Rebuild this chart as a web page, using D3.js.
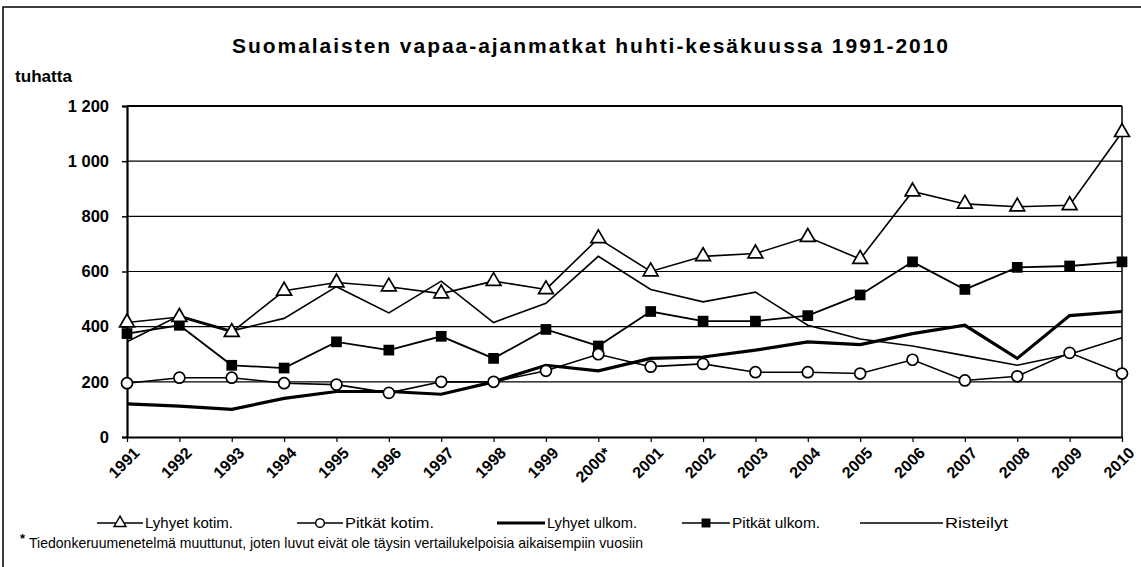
<!DOCTYPE html>
<html><head><meta charset="utf-8">
<script src="https://cdn.jsdelivr.net/npm/d3@7"></script>
<style>body{margin:0;background:#fff}svg{display:block}text{font-family:"Liberation Sans",Arial,sans-serif;fill:#000}</style>
</head><body><svg id="c" width="1141" height="567"></svg>
<script>
const years = ["1991","1992","1993","1994","1995","1996","1997","1998","1999","2000*","2001","2002","2003","2004","2005","2006","2007","2008","2009","2010"];
const lyhyetKotim = [415,435,380,530,560,545,520,565,535,720,600,655,665,725,645,890,845,835,840,1105];
const pitkatKotim = [195,215,215,195,190,160,200,200,240,300,255,265,235,235,230,280,205,220,305,230];
const lyhyetUlkom = [120,112,100,140,165,165,155,200,260,240,285,290,315,345,335,375,405,285,440,455];
const pitkatUlkom = [375,405,260,250,345,315,365,285,390,330,455,420,420,440,515,635,535,615,620,635];
const risteilyt  = [345,440,385,430,545,450,565,415,485,655,535,490,525,405,355,330,295,260,300,360];
const yTicks = [0,200,400,600,800,1000,1200];
const yTickLabels = ["0","200","400","600","800","1 000","1 200"];
const seriesNames = ["Lyhyet kotim.","Pitkät kotim.","Lyhyet ulkom.","Pitkät ulkom.","Risteilyt"];
const titleText = "Suomalaisten vapaa-ajanmatkat huhti-kesäkuussa 1991-2010";
const unitText = "tuhatta";
const noteText = "Tiedonkeruumenetelmä muuttunut, joten luvut eivät ole täysin vertailukelpoisia aikaisempiin vuosiin";

const svg = d3.select("#c");
const L=127, R=1122, T=106, B=437;
const x = d3.scalePoint().domain(years).range([L,R]);
const y = d3.scaleLinear().domain([0,1200]).range([B,T]);

// outer frame
svg.append("rect").attr("x",3).attr("y",7).attr("width",1160).attr("height",600)
  .attr("fill","none").attr("stroke","#000").attr("stroke-width",1.5);

// title
svg.append("text").attr("x",232).attr("y",53).attr("font-size",21).attr("font-weight","bold")
  .style("font-size","21px")
  .attr("textLength",716).attr("lengthAdjust","spacing").text(titleText);
svg.append("text").attr("x",15).attr("y",82).style("font-size","16px").attr("font-weight","bold")
  .attr("textLength",57).attr("lengthAdjust","spacingAndGlyphs").text(unitText);

// gridlines
svg.append("g").selectAll("line").data(yTicks.filter(d=>d>0)).join("line")
  .attr("x1",L).attr("x2",R).attr("y1",d=>y(d)).attr("y2",d=>y(d))
  .attr("stroke","#000").attr("stroke-width",d=>d===1200?1.8:1.1);
// right border
svg.append("line").attr("x1",R).attr("x2",R).attr("y1",T).attr("y2",B).attr("stroke","#000").attr("stroke-width",1.5);

// y axis
const yAxis = d3.axisLeft(y).tickValues(yTicks).tickSize(5).tickFormat((d,i)=>yTickLabels[i]);
const gy = svg.append("g").attr("transform",`translate(${L},0)`).call(yAxis);
gy.select(".domain").attr("stroke-width",2.2);
gy.selectAll(".tick line").attr("stroke-width",1.5);
gy.selectAll(".tick text").style("font-size","16.5px").attr("font-weight","bold").attr("x",-18)
  .attr("font-family","Liberation Sans, Arial, sans-serif").attr("fill","#000");

// x axis
const xAxis = d3.axisBottom(x).tickSize(5).tickSizeOuter(0);
const gx = svg.append("g").attr("transform",`translate(0,${B})`).call(xAxis);
gx.select(".domain").attr("stroke-width",1.8);
gx.selectAll(".tick line").attr("stroke-width",1.2);
gx.selectAll(".tick text").style("font-size","16px").attr("font-weight","bold")
  .attr("font-family","Liberation Sans, Arial, sans-serif").attr("fill","#000")
  .attr("text-anchor","end").attr("dy",0).attr("y",0)
  .attr("transform","translate(13,17) rotate(-45)");

// lines
const line = d3.line().x((d,i)=>x(years[i])).y(d=>y(d));
const g = svg.append("g");
g.append("path").datum(risteilyt).attr("d",line).attr("fill","none").attr("stroke","#000").attr("stroke-width",1.6);
g.append("path").datum(lyhyetUlkom).attr("d",line).attr("fill","none").attr("stroke","#000").attr("stroke-width",3.2);
g.append("path").datum(pitkatKotim).attr("d",line).attr("fill","none").attr("stroke","#000").attr("stroke-width",1.6);
g.append("path").datum(pitkatUlkom).attr("d",line).attr("fill","none").attr("stroke","#000").attr("stroke-width",1.8);
g.append("path").datum(lyhyetKotim).attr("d",line).attr("fill","none").attr("stroke","#000").attr("stroke-width",1.6);

const tri = d3.symbol().type(d3.symbolTriangle).size(95);
const sq = d3.symbol().type(d3.symbolSquare).size(115);
const circ = d3.symbol().type(d3.symbolCircle).size(95);
g.append("g").selectAll("path").data(pitkatUlkom).join("path")
  .attr("d",sq).attr("transform",(d,i)=>`translate(${x(years[i])},${y(d)})`).attr("fill","#000");
g.append("g").selectAll("path").data(pitkatKotim).join("path")
  .attr("d",circ).attr("transform",(d,i)=>`translate(${x(years[i])},${y(d)})`).attr("fill","#fff").attr("stroke","#000").attr("stroke-width",1.7);
g.append("g").selectAll("path").data(lyhyetKotim).join("path")
  .attr("d",tri).attr("transform",(d,i)=>`translate(${x(years[i])},${y(d)})`).attr("fill","#fff").attr("stroke","#000").attr("stroke-width",1.7);

// legend
const legX = [97,297,497,682,860];
const legW = [46,46,48,48,83];
const legTextW = [88,89,90,88,63];
const legY = 523;
const lg = svg.append("g");
seriesNames.forEach((n,i)=>{
  lg.append("line").attr("x1",legX[i]).attr("x2",legX[i]+legW[i]).attr("y1",legY).attr("y2",legY)
    .attr("stroke","#000").attr("stroke-width",i===2?3:1.6);
  const cx = legX[i]+legW[i]/2;
  if(i===0) lg.append("path").attr("d",d3.symbol().type(d3.symbolTriangle).size(60)).attr("transform",`translate(${cx},${legY})`).attr("fill","#fff").attr("stroke","#000").attr("stroke-width",1.5);
  if(i===1) lg.append("path").attr("d",d3.symbol().type(d3.symbolCircle).size(60)).attr("transform",`translate(${cx},${legY})`).attr("fill","#fff").attr("stroke","#000").attr("stroke-width",1.5);
  if(i===3) lg.append("path").attr("d",d3.symbol().type(d3.symbolSquare).size(80)).attr("transform",`translate(${cx},${legY})`).attr("fill","#000");
  lg.append("text").attr("x",legX[i]+legW[i]+2).attr("y",legY+5).style("font-size","15px")
    .attr("textLength",legTextW[i]).attr("lengthAdjust","spacingAndGlyphs").text(n);
});

// footnote
svg.append("text").attr("x",20).attr("y",543).style("font-size","13px").attr("font-weight","bold").text("*");
svg.append("text").attr("x",29).attr("y",548).style("font-size","14.5px")
  .attr("textLength",614).attr("lengthAdjust","spacingAndGlyphs").text(noteText);
</script></body></html>
